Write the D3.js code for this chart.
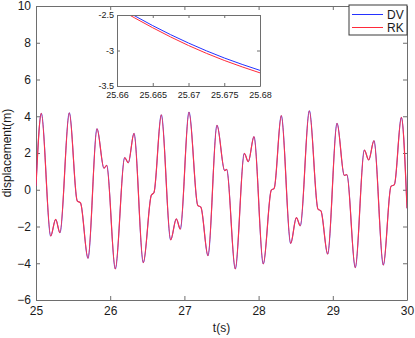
<!DOCTYPE html>
<html lang="en">

<head>
  <meta charset="UTF-8">
  <title>displacement</title>
  <script src="https://d3js.org/d3.v7.min.js"></script>
  <style>
    body { margin: 0; background: #fff; }
    svg { display: block; }
  </style>
</head>

<body>
  <svg width="415" height="338"></svg>
</body>

<script>
  // extrema and shoulders, t in s, displacement in m
  const tMain = [
    25.000, 25.072, 25.198, 25.265, 25.323, 25.449, 25.555, 25.600, 25.701, 25.822,
    25.916, 25.953, 26.069, 26.195, 26.244, 26.321, 26.446, 26.554, 26.590, 26.689,
    26.815, 26.891, 26.945, 27.062, 27.180, 27.222, 27.318, 27.439, 27.543, 27.570,
    27.686, 27.807, 27.861, 27.938, 28.063, 28.171, 28.210, 28.306, 28.432, 28.509,
    28.562, 28.684, 28.800, 28.840, 28.931, 29.057, 29.155, 29.190, 29.303, 29.425,
    29.484, 29.555, 29.681, 29.784, 29.830, 29.924, 30.000
  ];
  const rkMain = [
    0.20, 4.16, -2.52, -1.61, -2.34, 4.19, -0.60, -0.72, -3.73, 3.32,
    1.17, 1.33, -4.31, 1.75, 1.47, 3.07, -3.97, -0.30, -0.15, 4.08,
    -2.73, -1.59, -2.14, 4.23, -0.85, -0.95, -3.59, 3.51, 1.04, 1.11,
    -4.31, 1.98, 1.53, 2.89, -4.04, -0.02, 0.08, 4.03, -2.92, -1.52,
    -1.96, 4.30, -1.05, -1.15, -3.50, 3.62, 0.78, 0.82, -4.24, 2.16,
    1.62, 2.67, -4.10, 0.18, 0.28, 3.94, -1.01
  ];
  // at this scale DV lies under RK
  const dvMain = rkMain.slice();

  // zoomed window
  const tInset = [25.66, 25.665, 25.67, 25.675, 25.68];
  const dvInset = [-2.37, -2.65, -2.895, -3.105, -3.28];
  const rkInset = [-2.40, -2.68, -2.93, -3.14, -3.315];

  const xTicks = [25, 26, 27, 28, 29, 30];
  const yTicks = [-6, -4, -2, 0, 2, 4, 6, 8, 10];
  const insetXTicks = [25.66, 25.665, 25.67, 25.675, 25.68];
  const insetYTicks = [-3.5, -3, -2.5];
  const seriesNames = ["DV", "RK"];

  const colors = { DV: "#2432ff", RK: "#ff2a3a" };
  const axisColor = "#6e6e6e";
  const textColor = "#1a1a1a";
  const font = "'Liberation Sans', Arial, sans-serif";

  const svg = d3.select("svg");
  const width = +svg.attr("width");
  const height = +svg.attr("height");
  const margin = { left: 36, top: 6, right: 8, bottom: 38 };
  const innerWidth = width - margin.left - margin.right;
  const innerHeight = height - margin.top - margin.bottom;

  const maingroup = svg.append("g")
    .attr("transform", "translate(" + margin.left + "," + margin.top + ")");

  const xScale = d3.scaleLinear().domain([25, 30]).range([0, innerWidth]);
  const yScale = d3.scaleLinear().domain([-6, 10]).range([innerHeight, 0]);

  function styleAxis(g, size) {
    g.attr("font-family", font).attr("font-size", size);
    g.selectAll("path, line").attr("stroke", axisColor);
    g.selectAll("text").attr("fill", textColor);
  }
  // top / right axes carry ticks only
  function tickOnly(g) {
    g.selectAll("text").remove();
    g.selectAll("path, line").attr("stroke", axisColor);
  }

  /**
   * 主坐标轴
   */
  maingroup.append("g")
    .attr("transform", "translate(0," + innerHeight + ")")
    .call(d3.axisBottom(xScale).tickValues(xTicks).tickSize(-4).tickSizeOuter(0).tickPadding(6).tickFormat(d3.format("d")))
    .call(g => styleAxis(g, 12));

  maingroup.append("g")
    .call(d3.axisTop(xScale).tickValues(xTicks).tickSize(-4).tickSizeOuter(0))
    .call(tickOnly);

  maingroup.append("g")
    .call(d3.axisLeft(yScale).tickValues(yTicks).tickSize(-4).tickSizeOuter(0).tickPadding(5).tickFormat(d3.format("d")))
    .call(g => styleAxis(g, 12));

  maingroup.append("g")
    .attr("transform", "translate(" + innerWidth + ",0)")
    .call(d3.axisRight(yScale).tickValues(yTicks).tickSize(-4).tickSizeOuter(0))
    .call(tickOnly);

  svg.append("text")
    .attr("x", margin.left + innerWidth / 2)
    .attr("y", 332)
    .attr("text-anchor", "middle")
    .attr("font-family", font)
    .attr("font-size", 12)
    .attr("fill", textColor)
    .text("t(s)");

  svg.append("text")
    .attr("transform", "translate(11," + (margin.top + innerHeight / 2) + ") rotate(-90)")
    .attr("text-anchor", "middle")
    .attr("font-family", font)
    .attr("font-size", 12)
    .attr("fill", textColor)
    .text("displacement(m)");

  /**
   * 曲线
   */
  svg.append("clipPath").attr("id", "clip-main")
    .append("rect").attr("width", innerWidth).attr("height", innerHeight);

  const mainLine = d3.line()
    .x((d, i) => xScale(tMain[i]))
    .y(d => yScale(d))
    .curve(d3.curveMonotoneX);

  const lines = maingroup.append("g").attr("clip-path", "url(#clip-main)");
  [["DV", dvMain, 0.8], ["RK", rkMain, 1.2]].forEach(([name, vals, w]) => {
    lines.append("path")
      .datum(vals)
      .attr("fill", "none")
      .attr("stroke", name === "RK" ? "#f7334f" : colors[name])
      .attr("stroke-width", w)
      .attr("d", mainLine);
  });

  /**
   * 局部放大
   */
  const inset = { left: 117, top: 15, width: 143, height: 71 };
  const insetGroup = svg.append("g")
    .attr("transform", "translate(" + inset.left + "," + inset.top + ")");

  const ixScale = d3.scaleLinear().domain([25.66, 25.68]).range([0, inset.width]);
  const iyScale = d3.scaleLinear().domain([-3.5, -2.5]).range([inset.height, 0]);

  insetGroup.append("rect")
    .attr("width", inset.width)
    .attr("height", inset.height)
    .attr("fill", "#fff");

  svg.append("clipPath").attr("id", "clip-inset")
    .append("rect").attr("width", inset.width).attr("height", inset.height);

  const insetLine = d3.line()
    .x((d, i) => ixScale(tInset[i]))
    .y(d => iyScale(d))
    .curve(d3.curveMonotoneX);

  const insetLines = insetGroup.append("g").attr("clip-path", "url(#clip-inset)");
  [["DV", dvInset], ["RK", rkInset]].forEach(([name, vals]) => {
    insetLines.append("path")
      .datum(vals)
      .attr("fill", "none")
      .attr("stroke", colors[name])
      .attr("stroke-width", 1)
      .attr("d", insetLine);
  });

  insetGroup.append("g")
    .attr("transform", "translate(0," + inset.height + ")")
    .call(d3.axisBottom(ixScale).tickValues(insetXTicks).tickSize(-3).tickSizeOuter(0).tickPadding(6).tickFormat(d => String(+d.toFixed(3))))
    .call(g => styleAxis(g, 9));

  insetGroup.append("g")
    .call(d3.axisTop(ixScale).tickValues(insetXTicks).tickSize(-3).tickSizeOuter(0))
    .call(tickOnly);

  insetGroup.append("g")
    .call(d3.axisLeft(iyScale).tickValues(insetYTicks).tickSize(-3).tickSizeOuter(0).tickPadding(3).tickFormat(d => String(d)))
    .call(g => styleAxis(g, 9));

  insetGroup.append("g")
    .attr("transform", "translate(" + inset.width + ",0)")
    .call(d3.axisRight(iyScale).tickValues(insetYTicks).tickSize(-3).tickSizeOuter(0))
    .call(tickOnly);

  /**
   * 图例
   */
  const legend = svg.append("g").attr("transform", "translate(349,5)");
  legend.append("rect")
    .attr("width", 58)
    .attr("height", 30)
    .attr("fill", "#fff")
    .attr("stroke", "#3a3a3a");

  const item = legend.selectAll("g.item")
    .data(seriesNames)
    .enter()
    .append("g")
    .attr("class", "item")
    .attr("transform", (d, i) => "translate(0," + (9.5 + i * 13) + ")");

  item.append("line")
    .attr("x1", 3).attr("x2", 34)
    .attr("stroke", d => colors[d])
    .attr("stroke-width", 1);

  item.append("text")
    .attr("x", 38)
    .attr("dy", "0.36em")
    .attr("font-family", font)
    .attr("font-size", 12)
    .attr("fill", textColor)
    .text(d => d);
</script>

</html>
